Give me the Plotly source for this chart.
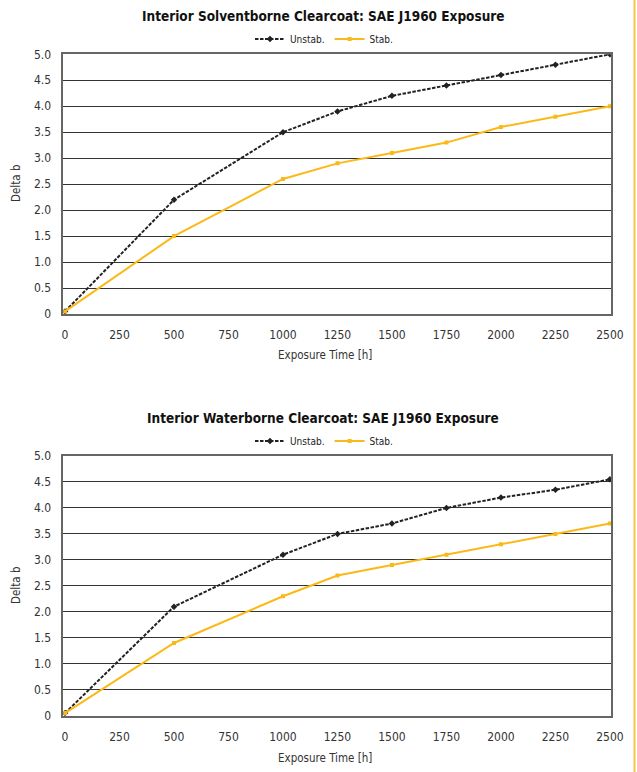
import plotly.graph_objects as go

# ---- data ----
hours = [0, 500, 1000, 1250, 1500, 1750, 2000, 2250, 2500]

solvent_unstab = [0.05, 2.2, 3.5, 3.9, 4.2, 4.4, 4.6, 4.8, 5.0]
solvent_stab = [0.05, 1.5, 2.6, 2.9, 3.1, 3.3, 3.6, 3.8, 4.0]

water_unstab = [0.05, 2.1, 3.1, 3.5, 3.7, 4.0, 4.2, 4.35, 4.55]
water_stab = [0.05, 1.4, 2.3, 2.7, 2.9, 3.1, 3.3, 3.5, 3.7]

x_ticks = [0, 250, 500, 750, 1000, 1250, 1500, 1750, 2000, 2250, 2500]
y_ticks = [0, 0.5, 1.0, 1.5, 2.0, 2.5, 3.0, 3.5, 4.0, 4.5, 5.0]
y_tick_text = ["0", "0.5", "1.0", "1.5", "2.0", "2.5", "3.0", "3.5", "4.0", "4.5", "5.0"]

titles = ["Interior Solventborne Clearcoat: SAE J1960 Exposure",
          "Interior Waterborne Clearcoat: SAE J1960 Exposure"]
series_names = ["Unstab.", "Stab."]

FONT = "DejaVu Sans Condensed, Liberation Sans Narrow, Arial Narrow, sans-serif"
BLACK = "#222222"
YELLOW = "#FBB917"

W, H = 637, 772

fig = go.Figure()

panels = [
    (solvent_unstab, solvent_stab, "x", "y", "legend"),
    (water_unstab, water_stab, "x2", "y2", "legend2"),
]
for unstab, stab, xa, ya, lg in panels:
    fig.add_trace(go.Scatter(
        x=hours, y=unstab, name=series_names[0], xaxis=xa, yaxis=ya, legend=lg,
        mode="lines+markers",
        line=dict(color=BLACK, width=2, dash="3.5px,1.5px"),
        marker=dict(symbol="diamond", size=5, color=BLACK),
    ))
    fig.add_trace(go.Scatter(
        x=hours, y=stab, name=series_names[1], xaxis=xa, yaxis=ya, legend=lg,
        mode="lines+markers",
        line=dict(color=YELLOW, width=2),
        marker=dict(symbol="square", size=4, color=YELLOW),
    ))

# pixel geometry -> paper fractions
def py(v):
    return 1 - v / H

x_dom = [63.3 / W, 611 / W]
top_dom = [py(314), py(54.3)]
bot_dom = [py(715.7), py(456)]

axis_common_x = dict(
    range=[-8, 2505], tickvals=x_ticks, showgrid=False, zeroline=False,
    showline=True, linecolor="#666666", linewidth=1.5, mirror=True,
    ticks="", ticklabelstandoff=9, automargin=False,
    tickfont=dict(family=FONT, size=12, color="#333333"),
)
axis_common_y = dict(
    range=[0, 5.0], tickvals=y_ticks, ticktext=y_tick_text,
    showgrid=True, gridcolor="#333333", gridwidth=1, zeroline=False,
    showline=True, linecolor="#666666", linewidth=1.5, mirror=True,
    ticks="", ticklabelstandoff=8, automargin=False,
    tickfont=dict(family=FONT, size=12, color="#333333"),
)

legend_common = dict(orientation="h", xanchor="center", yanchor="middle",
                     font=dict(family=FONT, size=10, color="#222222"), itemwidth=30,
                     bgcolor="rgba(0,0,0,0)", tracegroupgap=0)

fig.update_layout(
    width=W, height=H,
    margin=dict(l=0, r=0, t=0, b=0, autoexpand=False),
    paper_bgcolor="white", plot_bgcolor="white",
    font=dict(family=FONT, color="#333333"),
    xaxis=dict(domain=x_dom, anchor="y", **axis_common_x),
    yaxis=dict(domain=top_dom, anchor="x", **axis_common_y),
    xaxis2=dict(domain=x_dom, anchor="y2", **axis_common_x),
    yaxis2=dict(domain=bot_dom, anchor="x2", **axis_common_y),
    legend=dict(x=324 / W, y=py(39), **legend_common),
    legend2=dict(x=324 / W, y=py(441), **legend_common),
    showlegend=True,
)

annotations = []
for title, ty, xt_y, yt_y in [(titles[0], 16, 355, 184), (titles[1], 418, 758, 586)]:
    annotations.append(dict(text="<b>" + title + "</b>", x=323 / W, y=py(ty), xref="paper", yref="paper",
                            xanchor="center", yanchor="middle", showarrow=False,
                            font=dict(family=FONT, size=13.5, color="#111111")))
    annotations.append(dict(text="Exposure Time [h]", x=325 / W, y=py(xt_y), xref="paper", yref="paper",
                            xanchor="center", yanchor="middle", showarrow=False,
                            font=dict(family=FONT, size=11.5, color="#333333")))
    annotations.append(dict(text="Delta b", x=16 / W, y=py(yt_y), xref="paper", yref="paper",
                            xanchor="center", yanchor="middle", showarrow=False, textangle=-90,
                            font=dict(family=FONT, size=11.5, color="#333333")))
fig.update_layout(annotations=annotations)

# yellow page rule at right edge
fig.add_shape(type="line", xref="paper", yref="paper", x0=634.5 / W, x1=634.5 / W, y0=0, y1=1,
              line=dict(color="#F9C646", width=2))

fig.write_html("out.html", config={"displayModeBar": False},
               post_script="document.body.style.margin='0';document.body.style.overflow='hidden';")
